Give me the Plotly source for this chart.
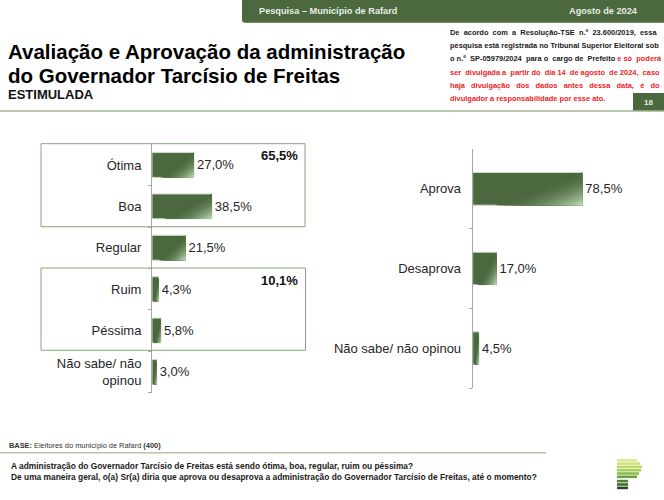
import plotly.graph_objects as go

W, H = 664, 500
left_cats = ["Ótima", "Boa", "Regular", "Ruim", "Péssima", "Não sabe/ não<br>opinou"]
left_vals = [27.0, 38.5, 21.5, 4.3, 5.8, 3.0]
right_cats = ["Aprova", "Desaprova", "Não sabe/ não opinou"]
right_vals = [78.5, 17.0, 4.5]
title_lines = ["Avaliação e Aprovação da administração", "do Governador Tarcísio de Freitas"]
subtitle = "ESTIMULADA"
box_totals = ["65,5%", "10,1%"]
note_lines = [
    "De&nbsp;&nbsp;acordo&nbsp;&nbsp;com&nbsp;&nbsp;a&nbsp;&nbsp;Resolução-TSE&nbsp;&nbsp;n.º&nbsp;&nbsp;23.600/2019,&nbsp;&nbsp;essa",
    "pesquisa está registrada no Tribunal Superior Eleitoral sob",
    "o n.º&nbsp;&nbsp;SP-05979/2024&nbsp;&nbsp;para o&nbsp;&nbsp;cargo de&nbsp;&nbsp;Prefeito <span style='color:#ee1c25'>e só&nbsp;&nbsp;poderá</span>",
    "<span style='color:#ee1c25'>ser&nbsp;&nbsp;divulgada a&nbsp;&nbsp;partir do&nbsp;&nbsp;dia 14&nbsp;&nbsp;de agosto&nbsp;&nbsp;de 2024,&nbsp;&nbsp;caso</span>",
    "<span style='color:#ee1c25'>haja&nbsp;&nbsp;&nbsp;divulgação&nbsp;&nbsp;&nbsp;dos&nbsp;&nbsp;&nbsp;dados&nbsp;&nbsp;&nbsp;antes&nbsp;&nbsp;&nbsp;dessa&nbsp;&nbsp;&nbsp;data,&nbsp;&nbsp;&nbsp;é&nbsp;&nbsp;&nbsp;do</span>",
    "<span style='color:#ee1c25'>divulgador a responsabilidade por esse ato.</span>",
]
questions = [
    "A administração do Governador Tarcísio de Freitas está sendo ótima, boa, regular, ruim ou péssima?",
    "De uma maneira geral, o(a) Sr(a) diria que aprova ou desaprova a administração do Governador Tarcísio de Freitas, até o momento?",
]

FONT = "Liberation Sans"
DARK = "#4b683f"

def px(x): return x / W
def py(y): return 1 - y / H

def lerp(t):
    a = (0x4b, 0x68, 0x3f); b = (0xc4, 0xe0, 0xbc)
    return "rgb(%d,%d,%d)" % tuple(a[i] + (b[i] - a[i]) * t for i in range(3))

fig = go.Figure()
shapes, anns = [], []

def add_chart(cats, vals, xname, yname, x0, x1, y0, y1, gap, tick_standoff):
    idx = list(range(len(cats)))
    fig.add_trace(go.Bar(
        x=vals, y=idx, orientation="h", xaxis=xname, yaxis=yname, width=1 - gap,
        marker=dict(color=DARK, line=dict(color="#cfdcc8", width=1)),
        text=["%.1f%%" % v for v in vals], textposition="outside", cliponaxis=False,
        textfont=dict(family=FONT, size=13, color="#262626"),
        texttemplate=[("%.1f%%" % v).replace(".", ",") for v in vals],
        hoverinfo="skip", showlegend=False))
    n = len(cats)
    xa = dict(domain=[px(x0), px(x1)], range=[0, 100], visible=False, anchor=yname)
    ya = dict(domain=[py(y1), py(y0)], range=[n - 0.5, -0.5], anchor=xname,
              tickmode="array", tickvals=idx, ticktext=cats, ticks="",
              showgrid=False, zeroline=False, showline=True, linecolor="#a6a6a6", linewidth=1,
              tickfont=dict(family=FONT, size=13, color="#262626"),
              ticklabelstandoff=tick_standoff,
              minor=dict(tickmode="array", tickvals=[i + 0.5 for i in range(n - 1)] + [n - 0.5],
                         ticks="outside", ticklen=3, tickcolor="#a6a6a6", showgrid=False))
    xk = "xaxis" + xname[1:]; yk = "yaxis" + yname[1:]
    fig.update_layout({xk: xa, yk: ya})
    # lighter diagonal corner of each bar, derived from the bar's value
    steps = 20
    for i, v in enumerate(vals):
        top, bot = i - (1 - gap) / 2, i + (1 - gap) / 2
        for s in range(steps):
            t = 1 - s / steps
            xs = v - v * 0.8 * t
            ys = bot - (bot - top) * min(1, t * 1.1)
            f = (s + 1) / steps
            shapes.append(dict(type="path", xref=xname, yref=yname, layer="above",
                               path=f"M {xs} {bot} L {v} {bot} L {v} {ys} Z",
                               fillcolor=lerp(f * f * 0.95),
                               line=dict(width=0)))

add_chart(left_cats, left_vals, "x", "y", 152, 307.5, 144.3, 392.6, 0.4, 7)
add_chart(right_cats, right_vals, "x2", "y2", 472.7, 612.4, 149, 388, 0.59, 8)

def rect(x0, y0, x1, y1, fill=None, line=None, lw=1):
    shapes.append(dict(type="rect", xref="paper", yref="paper",
                       x0=px(x0), x1=px(x1), y0=py(y0), y1=py(y1), layer="above",
                       fillcolor=fill or "rgba(0,0,0,0)",
                       line=dict(color=line, width=lw) if line else dict(width=0)))

def text(x, y, s, size, color="#000", anchor="left", bold=False):
    # annotations carry a 2px inner offset
    x = x - 2 if anchor == "left" else (x + 2 if anchor == "right" else x)
    anns.append(dict(xref="paper", yref="paper", x=px(x), y=py(y), xanchor=anchor, yanchor="middle",
                     text=f"<b>{s}</b>" if bold else s, showarrow=False, align=anchor,
                     font=dict(family=FONT, size=size, color=color)))

# header band with rounded lower-left corner
shapes.append(dict(type="path", xref="paper", yref="paper", fillcolor=DARK, line=dict(width=0),
                   path=f"M {px(242)} {py(0)} L {px(664)} {py(0)} L {px(664)} {py(22.7)} "
                        f"L {px(245)} {py(22.7)} Q {px(242)} {py(22.7)} {px(242)} {py(20)} Z"))
text(259, 10.5, "Pesquisa – Município de Rafard", 9.2, "#e8ede4", bold=True)
text(569, 10.5, "Agosto de 2024", 9.2, "#e8ede4", bold=True)

for s, y in zip(title_lines, [52, 75]):
    text(8, y, s, 20.5, "#000", bold=True)
text(8, 95, subtitle, 13, "#111", bold=True)

for s, y in zip(note_lines, [32, 45.5, 58.7, 72, 85, 99]):
    text(450, y, s, 7.45, "#1a1a1a", bold=True)

rect(633, 93, 664, 111, fill=DARK)
text(648, 102.5, "18", 8, "#e8ede4", "center", bold=True)
shapes.append(dict(type="line", xref="paper", yref="paper", x0=0, x1=1, y0=py(111), y1=py(111),
                   line=dict(color="#a3b592", width=1.5)))

rect(41, 143.7, 305, 226.7, line="#8aa57d", lw=1)
rect(41, 268, 305.5, 350.3, line="#8aa57d", lw=1)
text(298, 155.5, box_totals[0], 13, "#111", "right", bold=True)
text(298, 280.5, box_totals[1], 13, "#111", "right", bold=True)

text(9, 445.5, "<b>BASE:</b> Eleitores do município de Rafard <b>(400)</b>", 7.4, "#333")
shapes.append(dict(type="line", xref="paper", yref="paper", x0=0, x1=px(546), y0=py(452.7), y1=py(452.7),
                   line=dict(color="#b5c4a8", width=1.5)))
for s, y in zip(questions, [466, 477]):
    text(11, y, s, 8.4, "#1a1a1a", bold=True)

# logo
logo_bars = [(459, 637, "#dbe88f"), (462.3, 640, "#cfe27d"), (465.6, 642, "#bcd968"), (468.9, 641, "#a8cd55"),
             (472.2, 639, "#8fbb47"), (475.5, 637, "#6f9e3c"), (479.8, 628, "#4f7f36"), (483.2, 628, "#3c6a30"), (486.6, 628, "#1f4a24")]
for y, xr, c in logo_bars:
    rect(617, y, xr, y + 2.6, fill=c)

fig.update_layout(width=W, height=H, margin=dict(l=0, r=0, t=0, b=0),
                  paper_bgcolor="white", plot_bgcolor="rgba(0,0,0,0)",
                  shapes=shapes, annotations=anns, showlegend=False)
fig.write_html("out.html", post_script="document.body.style.margin='0';", config={"displayModeBar": False})
